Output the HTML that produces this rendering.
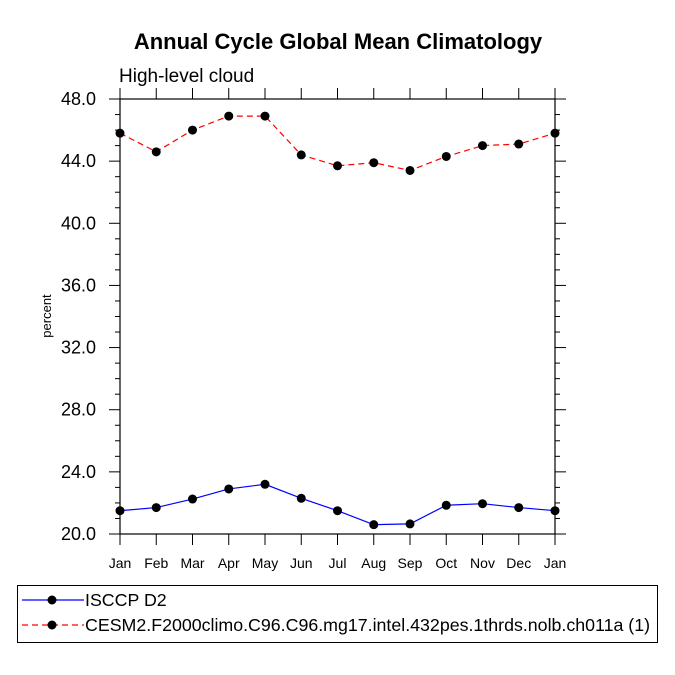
<!DOCTYPE html>
<html><head><meta charset="utf-8"><style>
body{margin:0;background:#fff;}
svg{display:block;font-family:"Liberation Sans",Arial,sans-serif;}
</style></head><body>
<svg id="chart" width="675" height="675">
<text x="338" y="49" text-anchor="middle" font-size="22" font-weight="bold">Annual Cycle Global Mean Climatology</text>
<text x="119" y="82" font-size="19">High-level cloud</text>
<text transform="translate(51,316) rotate(-90)" text-anchor="middle" font-size="13">percent</text>
<g id="axes"></g>
<g id="series"></g>
<g>
<rect x="17.5" y="585.5" width="640" height="57" fill="none" stroke="#000" stroke-width="1"/>
<g>
<line x1="22" y1="600" x2="84" y2="600" stroke="#00f" stroke-width="1.2"/>
<circle cx="52" cy="600" r="4.5" fill="#000"/>
<text x="85" y="606" font-size="17.8">ISCCP D2</text></g>
<g>
<line x1="22" y1="625" x2="84" y2="625" stroke="#f00" stroke-width="1.2" stroke-dasharray="6,4"/>
<circle cx="52" cy="625" r="4.5" fill="#000"/>
<text x="85" y="631" font-size="17.8">CESM2.F2000climo.C96.C96.mg17.intel.432pes.1thrds.nolb.ch011a (1)</text></g>
</g>
</svg>
<script>
const months=["Jan","Feb","Mar","Apr","May","Jun","Jul","Aug","Sep","Oct","Nov","Dec","Jan"];
const isccp=[21.5,21.7,22.25,22.9,23.2,22.3,21.5,20.6,20.65,21.85,21.95,21.7,21.5];
const cesm=[45.8,44.6,46.0,46.9,46.9,44.4,43.7,43.9,43.4,44.3,45.0,45.1,45.8];
const yTicks=[20,24,28,32,36,40,44,48];
const X0=120,X1=555,Y0=534,Y1=99,YMIN=20,YMAX=48;
const NS="http://www.w3.org/2000/svg";
function xS(i){return X0+(X1-X0)*i/(months.length-1);}
function yS(v){return Y0-(v-YMIN)/(YMAX-YMIN)*(Y0-Y1);}
function mk(tag,attrs,parent){const e=document.createElementNS(NS,tag);for(const k in attrs)e.setAttribute(k,attrs[k]);parent.appendChild(e);return e;}
const ax=document.getElementById('axes');
const fr=mk('rect',{x:X0,y:Y1,width:X1-X0,height:Y0-Y1,fill:'none',stroke:'#000','stroke-width':1.2},ax);


for(let v=YMIN;v<=YMAX;v++){
  const major=yTicks.includes(v);const L=major?11:5;const y=yS(v);
  mk('line',{x1:X0-L,y1:y,x2:X0,y2:y,stroke:'#000','stroke-width':1},ax);
  mk('line',{x1:X1,y1:y,x2:X1+L,y2:y,stroke:'#000','stroke-width':1},ax);
}
yTicks.forEach(v=>{
  const t=mk('text',{x:X0-24,y:yS(v)+6,'text-anchor':'end','font-size':18},ax);
  t.textContent=v.toFixed(1);
  
  
});
months.forEach((m,i)=>{
  const x=xS(i);
  mk('line',{x1:x,y1:Y0,x2:x,y2:Y0+11,stroke:'#000','stroke-width':1},ax);
  mk('line',{x1:x,y1:Y1-11,x2:x,y2:Y1,stroke:'#000','stroke-width':1},ax);
  const t=mk('text',{x:x,y:Y0+34,'text-anchor':'middle','font-size':14},ax);
  t.textContent=m;
  
  
});
const sg=document.getElementById('series');
function draw(vals,color,dash,name){
  const g=mk('g',{},sg);
  
  
  const pts=vals.map((v,i)=>xS(i)+','+yS(v)).join(' ');
  const attrs={points:pts,fill:'none',stroke:color,'stroke-width':1.2};
  if(dash)attrs['stroke-dasharray']=dash;
  mk('polyline',attrs,g);
  vals.forEach((v,i)=>{
    const c=mk('circle',{cx:xS(i),cy:yS(v),r:4.5,fill:'#000'},g);
    
    
  });
}
draw(isccp,'#00f',null,'isccp-line');
draw(cesm,'#f00','6,4','cesm2-line');
</script>
</body></html>
